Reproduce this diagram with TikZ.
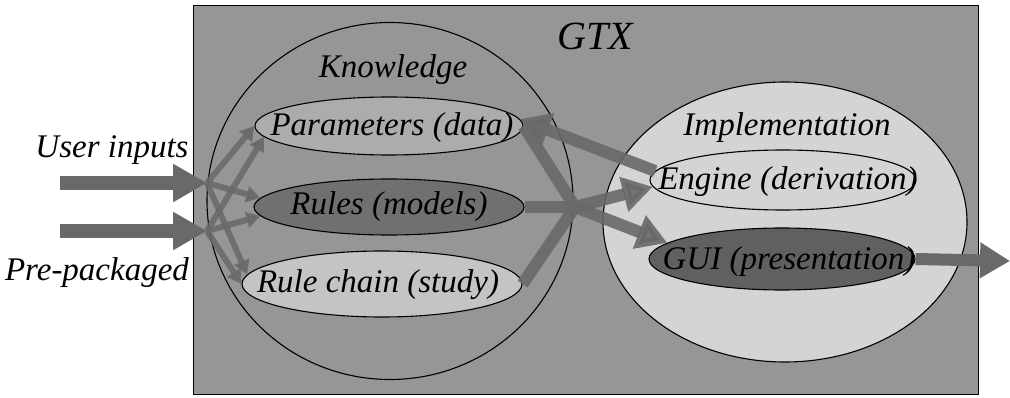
\documentclass[tikz,border=0pt]{standalone}
\usepackage{fontspec}
\setmainfont{Liberation Serif}
\usetikzlibrary{shapes.geometric,arrows.meta}
\definecolor{bggray}{RGB}{150,150,150}
\definecolor{paramgray}{RGB}{172,172,172}
\definecolor{rulesgray}{RGB}{112,112,112}
\definecolor{chaingray}{RGB}{196,196,196}
\definecolor{implgray}{RGB}{212,212,212}
\definecolor{guigray}{RGB}{96,96,96}
\definecolor{arrowgray}{RGB}{105,105,105}
\begin{document}
\begin{tikzpicture}[x=1pt,y=-1pt,
  lbl/.style={font=\fontsize{33}{37}\selectfont\itshape, inner sep=0pt},
  oval/.style={ellipse, draw=black, line width=1.1pt, inner sep=0pt},
  bigarrow/.style={draw=arrowgray, line width=14pt, -{Triangle[length=34pt,width=36pt]}},
  midline/.style={draw=arrowgray, line width=12pt, opacity=0.9},
  midarrow/.style={draw=arrowgray, line width=12pt, opacity=0.9, -{Triangle[length=30pt,width=34pt]}},
  smallarrow/.style={draw=arrowgray, line width=6pt, opacity=0.85, -{Triangle[length=14pt,width=16pt]}}
]
\useasboundingbox (0,0) rectangle (1010,398);
% GTX frame
\node[draw=black, line width=1pt, fill=bggray, minimum width=785pt, minimum height=389pt, inner sep=0pt, anchor=north west] (gtx) at (193,5) {};
\node[lbl, font=\fontsize{40}{44}\selectfont\itshape] (gtxlbl) at (595,36) {GTX};
% Knowledge
\node[oval, minimum width=366pt, minimum height=357pt] (know) at (390,201) {};
\node[lbl] (knowlbl) at (393,70) {Knowledge};
\node[oval, fill=paramgray, minimum width=268pt, minimum height=58pt] (param) at (389,126) {};
\node[oval, fill=rulesgray, minimum width=270pt, minimum height=56pt] (rules) at (389,207) {};
\node[oval, fill=chaingray, minimum width=280pt, minimum height=66pt] (chain) at (382,284) {};
% Implementation
\node[oval, fill=implgray, minimum width=364pt, minimum height=280pt] (impl) at (785,222) {};
\node[lbl] (impllbl) at (787,128) {Implementation};
\node[oval, fill=implgray, minimum width=266pt, minimum height=60pt] (engine) at (783,180) {};
\node[oval, fill=guigray, minimum width=266pt, minimum height=62pt] (gui) at (782,259) {};
% coordinates
\coordinate (u0) at (60,183);
\coordinate (ua) at (207,183);
\coordinate (p0) at (60,231);
\coordinate (pa) at (207,231);
\coordinate (conv) at (575,207);
\coordinate (out) at (1010,261);
% input arrows
\draw[bigarrow] (u0) -- (ua);
\draw[bigarrow] (p0) -- (pa);
% fan-out small arrows
\draw[smallarrow] (ua) -- (param.west);
\draw[smallarrow] (pa) -- (param.185);
\draw[smallarrow] (ua) -- (rules.176);
\draw[smallarrow] (pa) -- (rules.184);
\draw[smallarrow] (ua) -- (chain.176);
\draw[smallarrow] (pa) -- (chain.west);
% middle
\draw[midline] (param.east) -- (conv);
\draw[midline] (chain.east) -- (conv);
\draw[midline] (rules.east) -- (conv);
\draw[midarrow] (conv) -- (engine.183);
\draw[midarrow] (conv) -- (gui.172);
\draw[midarrow] (engine.176) -- (param.3);
% output
\draw[draw=arrowgray, line width=12pt, -{Triangle[length=30pt,width=34pt]}] (gui.east) -- (out);
% labels
\node[lbl] (paramlbl) at (392,128) {Parameters (data)};
\node[lbl] (ruleslbl) at (389,207) {Rules (models)};
\node[lbl] (chainlbl) at (378,285) {Rule chain (study)};
\node[lbl] (enginelbl) at (788,182) {Engine (derivation)};
\node[lbl] (guilbl) at (789,262) {GUI (presentation)};
\node[lbl] (userlbl) at (112,150) {User inputs};
\node[lbl] (prelbl) at (97,273) {Pre-packaged};
\end{tikzpicture}
\end{document}
